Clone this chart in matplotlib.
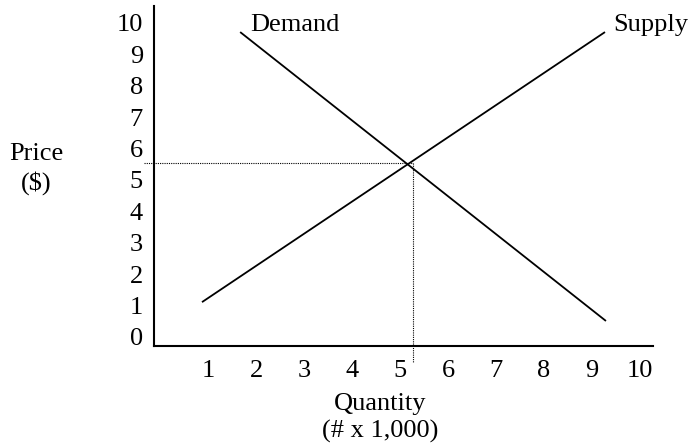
import matplotlib
matplotlib.use("Agg")
import matplotlib.pyplot as plt

# get data
demand_q = [1.67, 9.29]
demand_p = [9.71, 0.51]
supply_q = [0.875, 9.27]
supply_p = [1.11, 9.71]
eq_q = 5.27
eq_p = 5.54
x_ticks = [1, 2, 3, 4, 5, 6, 7, 8, 9, 10]
y_ticks = [0, 1, 2, 3, 4, 5, 6, 7, 8, 9, 10]

plt.rcParams['font.family'] = ['Liberation Serif', 'DejaVu Serif']
plt.rcParams['font.size'] = 19

fig = plt.figure(figsize=(6.9, 4.47), dpi=100)
W, H = 690, 447
# axes box in pixels: left 154, right 653, top 6, bottom 346
ax = fig.add_axes([154 / W, (H - 346) / H, (653 - 154) / W, (346 - 6) / H])

# plot data
ax.plot(demand_q, demand_p, color='black', lw=1.3, solid_capstyle='butt')
ax.plot(supply_q, supply_p, color='black', lw=1.3, solid_capstyle='butt')
ax.plot([-0.33, eq_q], [eq_p, eq_p], color='black', lw=0.8,
        linestyle=(0, (1, 1)), clip_on=False)
ax.plot([eq_q, eq_q], [eq_p, -0.8], color='black', lw=0.8,
        linestyle=(0, (1, 1)), clip_on=False)

ax.text(1.875, 9.94, 'Demand', ha='left', va='center')
ax.text(9.44, 9.94, 'Supply', ha='left', va='center')

ax.set_xlim(-0.125, 10.27)
ax.set_ylim(-0.287, 10.54)
ax.set_xticks(x_ticks)
ax.set_yticks(y_ticks)
ax.tick_params(length=0)
ax.tick_params(axis='x', pad=10)
ax.tick_params(axis='y', pad=8)

for s in ['top', 'right']:
    ax.spines[s].set_visible(False)
for s in ['left', 'bottom']:
    ax.spines[s].set_linewidth(1.5)

ax.set_ylabel('Price\n($)', rotation=0, ha='center', va='center', linespacing=1.3)
ax.yaxis.set_label_coords(-0.236, 0.52)
ax.set_xlabel('Quantity\n(# x 1,000)', ha='center', va='center', linespacing=1.25)
ax.xaxis.set_label_coords(0.453, -0.212)

fig.savefig('out.png', dpi=100)
